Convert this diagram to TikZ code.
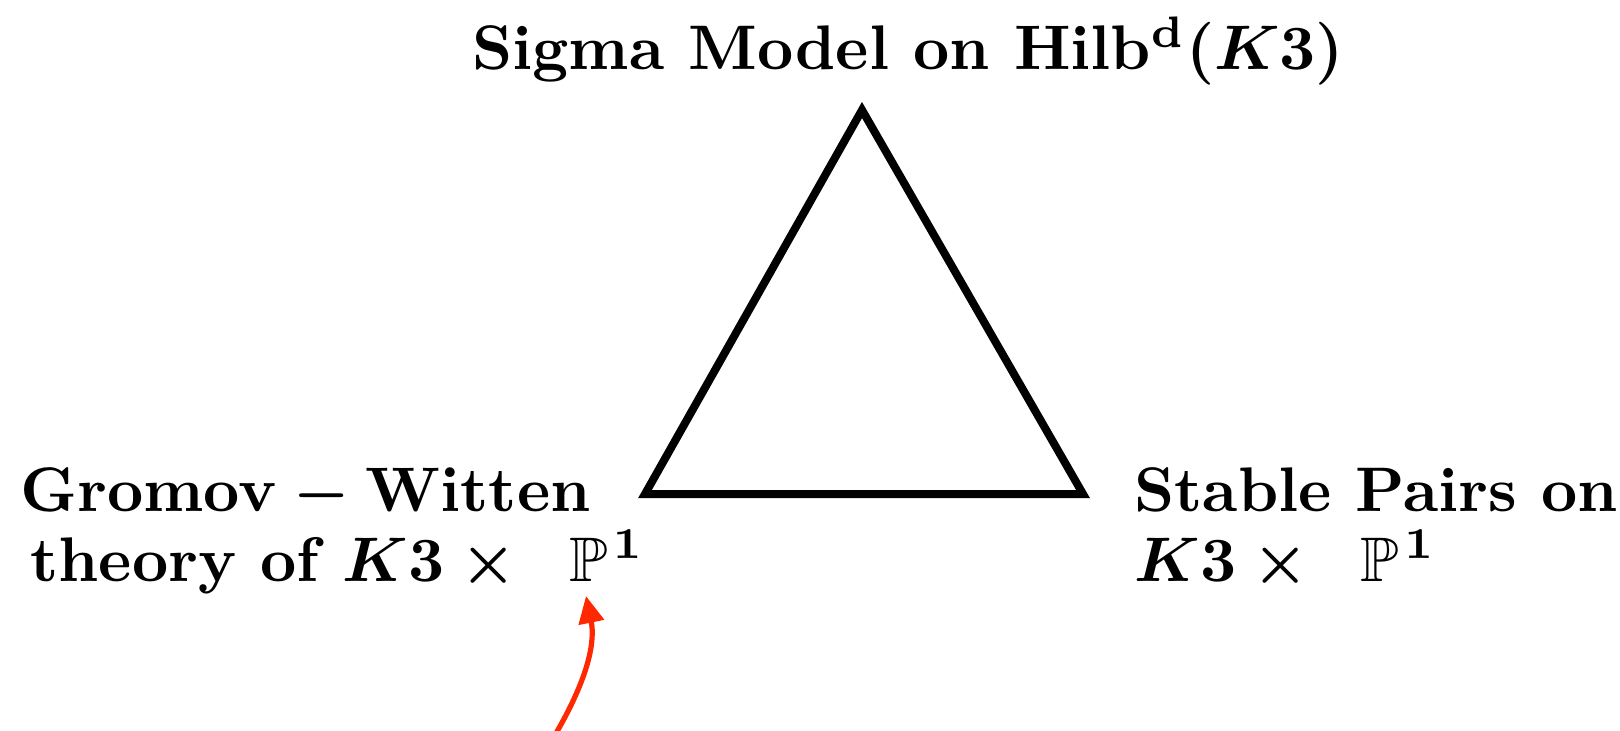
\documentclass[tikz,border=0pt]{standalone}
\usepackage{amsmath,amssymb}
\usepackage{graphicx}
\usetikzlibrary{arrows.meta}
\definecolor{arrowred}{RGB}{255,40,0}
\newcommand{\biglbl}[1]{\scalebox{3.15}{\fontsize{10}{12}\selectfont\bfseries\boldmath #1}}
\begin{document}
\begin{tikzpicture}[x=0.5pt,y=-0.5pt,
  lbl/.style={anchor=base west,inner sep=0pt},
  tri/.style={line width=4pt,line join=miter},
  redarrow/.style={arrowred,line width=2.6pt,-{Triangle[length=13.5pt,width=12.5pt]}}]
\useasboundingbox (0,0) rectangle (1620,731);
\coordinate (apex) at (862,110);
\coordinate (bl) at (645,494);
\coordinate (br) at (1083,494);
\draw[tri] (apex) -- (bl) -- (br) -- cycle;
\node[lbl] (top) at (472,70) {\biglbl{Sigma Model on Hilb$^{\mathrm{d}}(K3)$}};
\node[lbl] (gw1) at (20,511) {\biglbl{$\mathbf{Gromov-Witten}$}};
\node[lbl] (gw2) at (30,581) {\biglbl{theory of $K3\times\ \,\mathbb{P}^{\mkern1.5mu 1}$}};
\node[lbl] (sp1) at (1134,511) {\biglbl{Stable Pairs on}};
\node[lbl] (sp2) at (1134,581) {\biglbl{$K3\times\ \,\mathbb{P}^{\mkern1.5mu 1}$}};
\coordinate (astart) at (555,735);
\coordinate (aend) at (586,596);
\draw[redarrow] (astart) .. controls (590,675) and (595,640) .. (aend);
\end{tikzpicture}
\end{document}
